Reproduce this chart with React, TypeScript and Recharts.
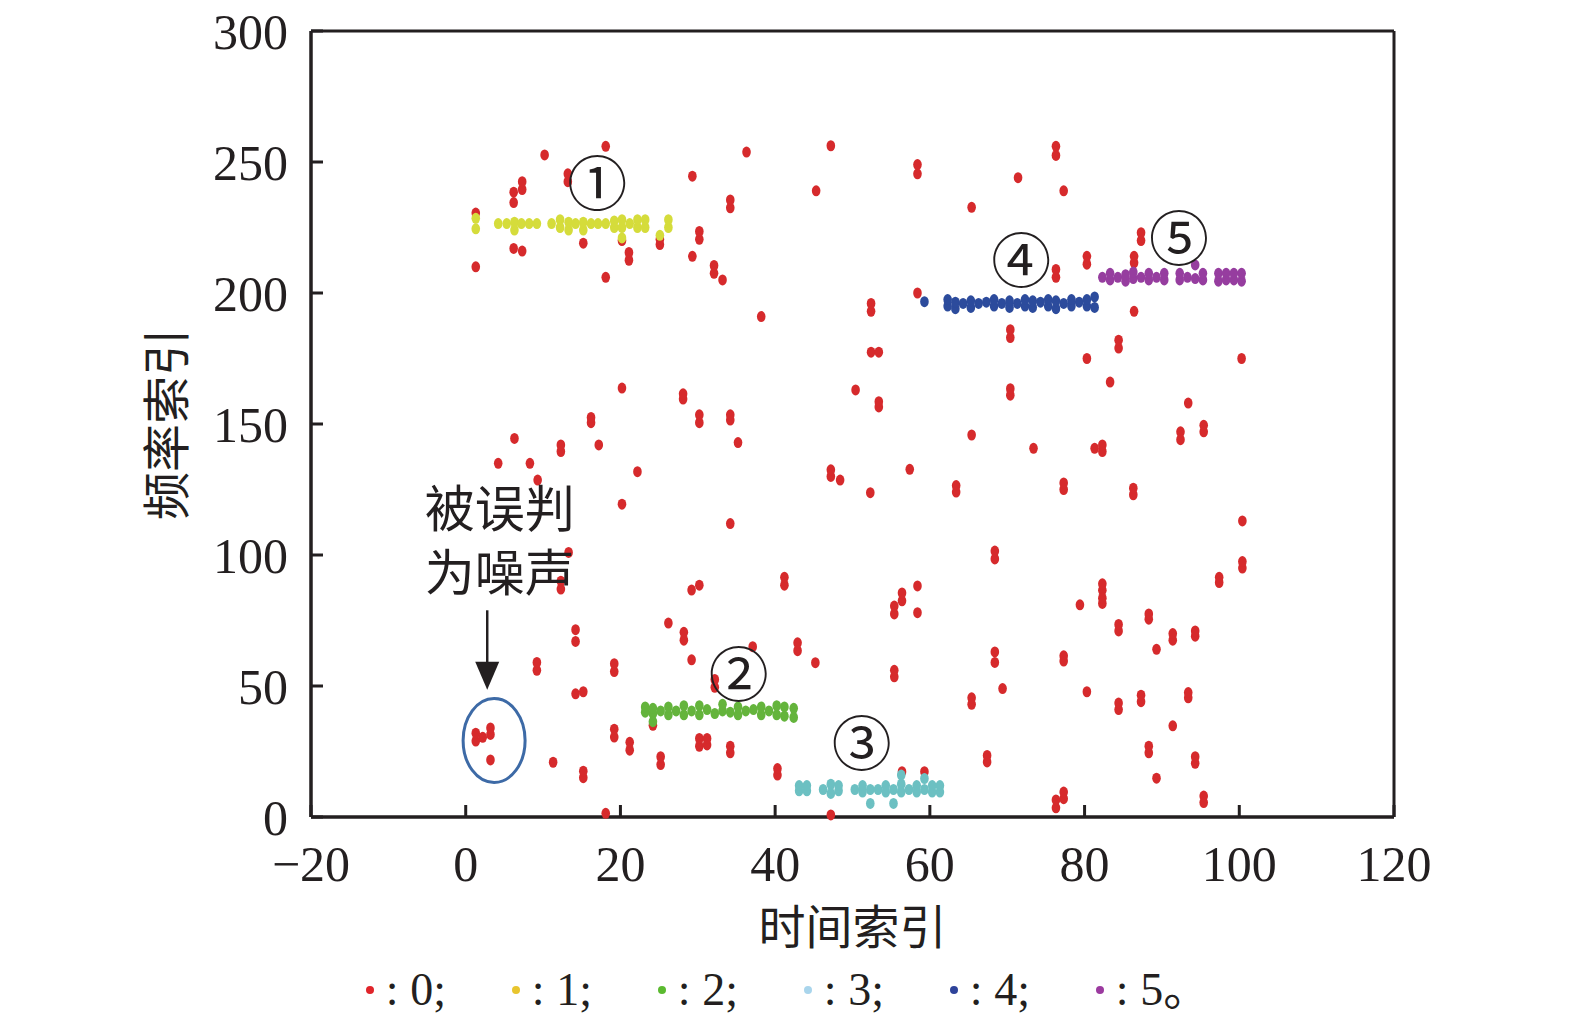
import React from "react";
import {
  Legend,
  ReferenceDot,
  ReferenceLine,
  Scatter,
  ScatterChart,
  XAxis,
  YAxis,
} from "recharts";

const SERIF = "'Liberation Serif', 'Times New Roman', 'Noto Sans CJK SC', serif";
const CJK = "'Noto Sans CJK SC', 'Liberation Serif', serif";
const INK = "#231f20";

const xTicks = [-20, 0, 20, 40, 60, 80, 100, 120];
const yTicks = [0, 50, 100, 150, 200, 250, 300];

// label 0: points judged as noise  [time index, frequency index]
const noise: [number, number][] = [
  [10.2, 252.7], [18.1, 256], [13.2, 242.5], [13.2, 245.5], [7.3, 239.5], [7.3, 242.5],
  [6.2, 234.5], [6.2, 238.5], [1.3, 230.5], [1.3, 210], [6.2, 217], [7.3, 216],
  [15.2, 219], [20.2, 220], [21.1, 212.5], [21.1, 215.5], [18.1, 206], [25.1, 218.5],
  [25.1, 220.5], [29.3, 244.6], [34.2, 232.5], [34.2, 235.5], [36.3, 253.8], [30.2, 220.5],
  [30.2, 223.5], [29.3, 214], [32.1, 207.5], [32.1, 210.5], [33.2, 205], [20.2, 163.7],
  [28.1, 159.5], [28.1, 161.5], [30.2, 150.5], [30.2, 153.5], [34.2, 151.5], [34.2, 153.5],
  [16.2, 150.5], [16.2, 152.5],
  [47.2, 256.2], [45.3, 239], [58.4, 245.5], [58.4, 249], [76.3, 252.5], [76.3, 256],
  [71.4, 244], [77.3, 239], [65.4, 232.7], [38.2, 191], [52.4, 193], [52.4, 196],
  [58.4, 200], [76.3, 206], [76.3, 209], [80.3, 211], [80.3, 214], [87.3, 220],
  [87.3, 223], [86.4, 211.5], [86.4, 214], [86.4, 193], [70.4, 183], [70.4, 186],
  [84.4, 179], [84.4, 182], [52.4, 177.4], [53.4, 177.4], [80.3, 175], [100.3, 175],
  [83.3, 166], [50.4, 163], [53.4, 156.5], [53.4, 158.5], [70.4, 161], [70.4, 163.5],
  [93.4, 158],
  [35.2, 142.9], [6.3, 144.5], [12.3, 139.5], [12.3, 142], [17.2, 142], [4.2, 135],
  [8.3, 135], [9.3, 128.6], [22.2, 131.8], [20.2, 119.4], [34.2, 112], [13.3, 101],
  [12.3, 87], [12.3, 90], [29.2, 86.6], [30.2, 88.5], [41.2, 88.5], [41.2, 91.5],
  [26.2, 74], [28.2, 67.5], [28.2, 70.5], [14.2, 67], [14.2, 71.5], [37.1, 65],
  [29.2, 60], [42.9, 63.5], [42.9, 66.5], [9.2, 56], [9.2, 59], [19.2, 55.5],
  [19.2, 58.5], [14.2, 47], [15.2, 47.8], [32.2, 49.5], [32.2, 52.5], [24.2, 35],
  [19.2, 30.5], [19.2, 33.5], [21.2, 25.5], [21.2, 28.5], [30.2, 27], [30.2, 30],
  [31.2, 27.5], [31.2, 30], [34.2, 24.5], [34.2, 27], [25.2, 20], [25.2, 23],
  [11.3, 20.9], [15.2, 15], [15.2, 17.5], [40.3, 16], [40.3, 18.5], [18.1, 1.4],
  [1.3, 29], [1.3, 32], [2.2, 30.4], [3.2, 31.5], [3.2, 34], [3.2, 21.8],
  [65.4, 145.8], [73.4, 140.7], [81.3, 140.7], [82.3, 139.5], [82.3, 142], [92.4, 144],
  [92.4, 147], [95.4, 147], [95.4, 149.5], [47.2, 130], [47.2, 132.5], [48.4, 128.6],
  [57.4, 132.7], [52.3, 123.8], [63.4, 124], [63.4, 126.5], [77.3, 125], [77.3, 127.5],
  [86.3, 123], [86.3, 125.5], [100.4, 113], [68.4, 98.5], [68.4, 101.5], [100.4, 95],
  [100.4, 97.5], [97.4, 89.5], [97.4, 91.5], [58.4, 88.2], [56.4, 82.5], [56.4, 85.5],
  [55.4, 77.5], [55.4, 80.5], [58.4, 78], [82.3, 86.5], [82.3, 89], [82.3, 81.5],
  [82.3, 83.5], [79.4, 81], [88.3, 75.5], [88.3, 77.5], [84.4, 71], [84.4, 73.5],
  [91.4, 67.5], [91.4, 70], [94.3, 69], [94.3, 71], [89.3, 64], [45.2, 58.9],
  [55.4, 53.5], [55.4, 56], [68.4, 59], [68.4, 63], [77.3, 59.5], [77.3, 61.5],
  [69.4, 49], [80.3, 47.8], [65.4, 43], [65.4, 45.5], [84.4, 41], [84.4, 43.5],
  [87.3, 44], [87.3, 46.5], [93.4, 45.5], [93.4, 47.5], [91.4, 34.8], [88.3, 24.5],
  [88.3, 27], [94.3, 20.5], [94.3, 23], [67.4, 21], [67.4, 23.5], [89.3, 14.8],
  [76.3, 3.5], [76.3, 6.5], [77.3, 7], [77.3, 9.5], [95.4, 5.5], [95.4, 8],
  [47.2, 0.8], [56.4, 17.3], [59.3, 17.3],
];

const cluster1: [number, number][] = [
  [1.3, 224.5], [1.3, 228.5], [4.2, 226.5], [5.3, 226.5], [6.3, 224], [6.3, 227],
  [7.2, 226.5], [8.2, 226.5], [9.2, 226.5], [11.1, 226.5], [12.2, 225], [12.2, 228],
  [13.3, 224], [13.3, 227], [14.2, 226.5], [15.2, 224], [15.2, 227], [16.2, 226.5],
  [17.1, 226.5], [18.1, 226.5], [19.2, 225], [19.2, 227.5], [20.2, 225], [20.2, 228],
  [20.2, 221], [21.2, 226.5], [22.2, 225], [22.2, 228], [23.2, 225], [23.2, 228],
  [25.1, 222], [26.2, 225], [26.2, 228],
];

const cluster2: [number, number][] = [
  [23.2, 40], [23.2, 42], [24.2, 39.5], [24.2, 41.5], [24.2, 36.4], [25.2, 40.5],
  [26.2, 39], [26.2, 42], [27.2, 40.5], [28.2, 39], [28.2, 42.5], [29.2, 40.5],
  [30.2, 39], [30.2, 42.5], [31.2, 41], [32.2, 39.5], [33.2, 40.5], [33.2, 43],
  [34.2, 40], [35.2, 39], [35.2, 42], [36.2, 40.5], [37.2, 41], [38.2, 39],
  [38.2, 42], [39.2, 40.5], [40.2, 39], [40.2, 42.5], [41.2, 38.5], [41.2, 42],
  [42.4, 38], [42.4, 41.5],
];

const cluster3: [number, number][] = [
  [43.1, 10], [43.1, 12], [44.1, 10], [44.1, 12], [46.2, 10.5], [47.2, 9],
  [47.2, 12.5], [48.2, 10], [48.2, 12], [50.3, 10.5], [51.3, 9.5], [51.3, 12],
  [52.3, 10.5], [52.3, 5.2], [53.3, 10.5], [54.3, 9.5], [54.3, 12], [55.3, 10.5],
  [55.3, 5.2], [56.3, 9.5], [56.3, 12.5], [56.3, 16], [57.3, 10.5], [58.3, 9.5],
  [58.3, 12], [59.3, 10.5], [59.3, 14.7], [60.3, 9.5], [60.3, 12], [61.3, 9.5],
  [61.3, 12],
];

const cluster4: [number, number][] = [
  [59.3, 196.7], [62.3, 195], [62.3, 197.5], [63.3, 194], [63.3, 196.5], [64.3, 196],
  [65.3, 194.5], [65.3, 197], [66.3, 196], [67.3, 196.5], [68.3, 195], [68.3, 197.5],
  [69.3, 196], [70.3, 194.5], [70.3, 197], [71.3, 196], [72.3, 195], [72.3, 197.5],
  [73.3, 194.5], [73.3, 197], [74.3, 196.5], [75.3, 195], [75.3, 197.5], [76.3, 194],
  [76.3, 197], [77.3, 196], [78.3, 195], [78.3, 197.5], [79.3, 196.5], [80.3, 195],
  [80.3, 197.5], [81.3, 194.5], [81.3, 198.5],
];

const cluster5: [number, number][] = [
  [82.3, 206], [83.3, 205], [83.3, 207.5], [84.3, 206], [85.3, 204.5], [85.3, 207],
  [86.3, 205.5], [86.3, 208], [87.3, 206], [88.3, 205], [88.3, 207.5], [89.3, 206],
  [90.3, 205], [90.3, 207.5], [92.3, 205], [92.3, 207.5], [93.3, 206], [94.3, 205.5],
  [94.3, 210.7], [95.3, 205], [95.3, 207.5], [97.3, 204.5], [97.3, 207.5], [98.3, 205],
  [98.3, 207.5], [99.3, 205], [99.3, 207.5], [100.3, 204.5], [100.3, 207.5],
];

const seriesPoints = [noise, cluster1, cluster2, cluster3, cluster4, cluster5];
const seriesColors = ["#d62a2c", "#d5dc3b", "#64b43c", "#6cc0c2", "#2c4b9c", "#963d9f"];
const legendColors = ["#e0242a", "#e8c52e", "#5bba30", "#a9d5ec", "#2e439a", "#9b3a9f"];
const legendLabels = [": 0;", ": 1;", ": 2;", ": 3;", ": 4;", ": 5。"];

// circled cluster numbers: [t, f, text]
const clusterMarks: [number, number, string][] = [
  [17.0, 243.3, "①"],
  [35.3, 56, "②"],
  [51.2, 29.5, "③"],
  [71.8, 214, "④"],
  [92.2, 222.3, "⑤"],
];

const noteLines: [number, number, string][] = [
  [4.4, 119.2, "被误判"],
  [4.4, 94.8, "为噪声"],
];

const fmtX = (v: number) => (v < 0 ? `\u2212${Math.abs(v)}` : `${v}`);

function dotShape(color: string) {
  return (p: any) => <ellipse cx={p.cx} cy={p.cy} rx={4.3} ry={5.5} fill={color} />;
}

function XLabel({ viewBox }: any) {
  const cx = viewBox.x + viewBox.width / 2;
  return (
    <text x={cx} y={viewBox.y + 106} textAnchor="middle" dominantBaseline="central"
      fontFamily={CJK} fontSize={47} fill={INK}>
      时间索引
    </text>
  );
}

function YLabel({ viewBox }: any) {
  const x = viewBox.x - 48;
  const y = viewBox.y + viewBox.height / 2;
  return (
    <text x={x} y={y} transform={`rotate(-90 ${x} ${y})`} textAnchor="middle"
      dominantBaseline="central" fontFamily={CJK} fontSize={48} fill={INK}>
      频率索引
    </text>
  );
}

function LegendRow() {
  return (
    <div style={{ display: "flex", justifyContent: "center", fontFamily: SERIF, fontSize: 46, color: INK, lineHeight: "56px" }}>
      {legendLabels.map((txt, i) => (
        <div key={i} style={{ display: "flex", alignItems: "center", width: i < 5 ? 146 : "auto" }}>
          <span style={{ display: "inline-block", width: 8, height: 8, borderRadius: 4, background: legendColors[i], marginRight: 12 }} />
          <span style={{ whiteSpace: "pre" }}>{txt}</span>
        </div>
      ))}
    </div>
  );
}

export default function App() {
  const tickFont = { fontSize: 50, fontFamily: SERIF, fill: INK };
  const line = { stroke: INK, strokeWidth: 3 };
  return (
    <div style={{ position: "absolute", left: 0, top: 0, background: "#fff" }}>
      <ScatterChart width={1575} height={1025} margin={{ top: 31, right: 181, bottom: 148, left: 211 }}>
        <XAxis type="number" dataKey="t" domain={[-20, 120]} ticks={xTicks} tickFormatter={fmtX}
          height={60} tick={tickFont} stroke={INK} strokeWidth={3} axisLine={line} tickLine={line}
          tickSize={-12} tickMargin={40} interval={0} label={<XLabel />} />
        <YAxis type="number" dataKey="f" domain={[0, 300]} ticks={yTicks} width={100}
          tick={tickFont} stroke={INK} strokeWidth={3} axisLine={line} tickLine={line}
          tickSize={-12} tickMargin={35} interval={0} label={<YLabel />} />
        {/* closed frame: top and right edges */}
        <ReferenceLine y={300} stroke={INK} strokeWidth={3} />
        <ReferenceLine x={120} stroke={INK} strokeWidth={3} />
        <ReferenceLine y={0} stroke={INK} strokeWidth={3} />
        <ReferenceLine x={-20} stroke={INK} strokeWidth={3} />
        {seriesPoints.map((pts, i) => (
          <Scatter key={i} name={`${i}`} data={pts.map(([t, f]) => ({ t, f }))}
            fill={seriesColors[i]} shape={dotShape(seriesColors[i])} isAnimationActive={false} />
        ))}
        {clusterMarks.map(([t, f, s]) => (
          <ReferenceDot key={s} x={t} y={f} r={0}
            shape={(p: any) => (
              <text x={p.cx} y={p.cy} textAnchor="middle" dominantBaseline="central"
                fontFamily={CJK} fontSize={60} fill={INK}>{s}</text>
            )} />
        ))}
        {noteLines.map(([t, f, s]) => (
          <ReferenceDot key={s} x={t} y={f} r={0}
            shape={(p: any) => (
              <text x={p.cx} y={p.cy} textAnchor="middle" dominantBaseline="central"
                fontFamily={CJK} fontSize={50} fill={INK}>{s}</text>
            )} />
        ))}
        <ReferenceLine segment={[{ x: 2.78, y: 78.9 }, { x: 2.78, y: 55 }]} stroke={INK} strokeWidth={2.5} />
        <ReferenceDot x={2.78} y={48.6} r={0}
          shape={(p: any) => (
            <path d={`M${p.cx},${p.cy} L${p.cx - 12},${p.cy - 28} L${p.cx + 12},${p.cy - 28} Z`} fill={INK} />
          )} />
        <ReferenceDot x={3.67} y={29.2} r={0}
          shape={(p: any) => (
            <ellipse cx={p.cx} cy={p.cy} rx={31} ry={42} fill="none" stroke="#3d6aa6" strokeWidth={3} />
          )} />
        <Legend layout="horizontal" verticalAlign="middle" align="center" content={<LegendRow />}
          wrapperStyle={{ top: 962, left: 0, width: 1575 }} />
      </ScatterChart>
    </div>
  );
}
